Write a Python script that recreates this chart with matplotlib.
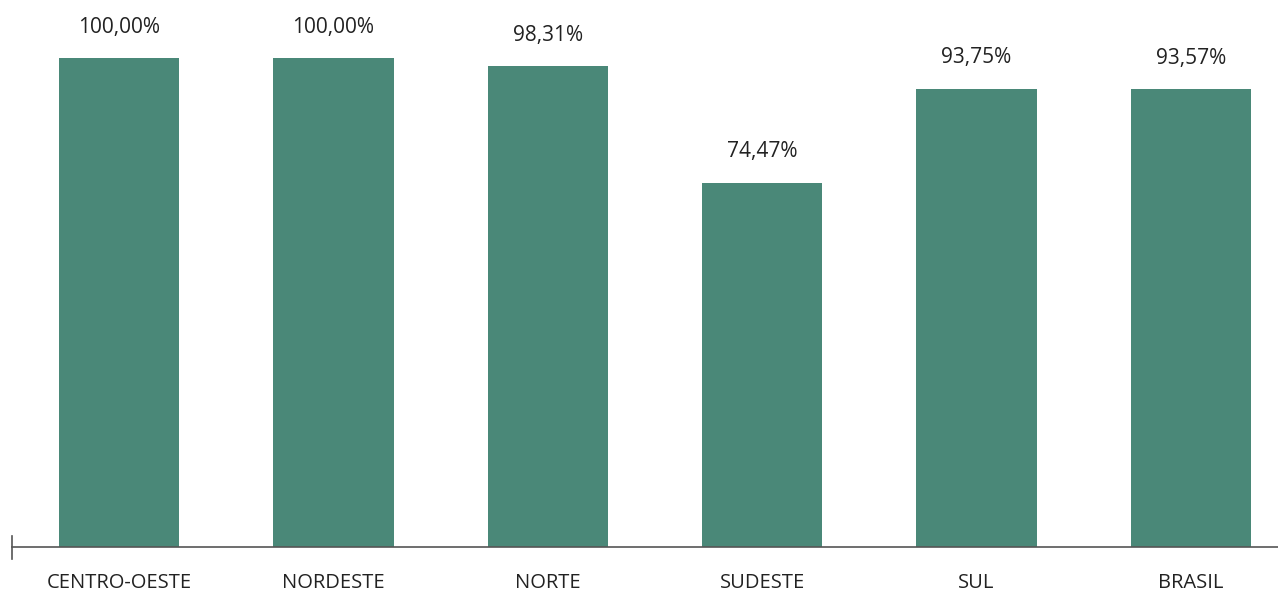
import matplotlib
matplotlib.use("Agg")
from matplotlib import pyplot as plt

regioes = ["CENTRO-OESTE", "NORDESTE", "NORTE", "SUDESTE", "SUL", "BRASIL"]
valores = [100.00, 100.00, 98.31, 74.47, 93.75, 93.57]
rotulos = ["100,00%", "100,00%", "98,31%", "74,47%", "93,75%", "93,57%"]

plt.rcParams['font.family'] = ['Open Sans', 'DejaVu Sans']

fig = plt.figure(figsize=(12.78, 5.92), dpi=100)
W, H = 1278, 592
# axes spans past the right edge, like the original crop
ax = fig.add_axes([12 / W, (H - 547) / H, 1286 / W, 547 / H])

x = range(len(regioes))
ax.bar(x, valores, width=0.56, color='#4a8878')
ax.set_xlim(-0.5, len(regioes) - 0.5)
ax.set_ylim(0, 111.86)

for i, (v, r) in enumerate(zip(valores, rotulos)):
    ax.annotate(r, (i, v), xytext=(0, 22.3), textcoords='offset points',
                ha='center', va='center', fontsize=15, color='#222222')

ax.set_xticks(list(x))
ax.set_xticklabels(regioes, fontsize=14.5, color='#222222')
ax.tick_params(axis='x', length=0, pad=18.5)
ax.set_yticks([])
for s in ['top', 'right', 'left']:
    ax.spines[s].set_visible(False)
ax.spines['bottom'].set_color('#555555')
ax.spines['bottom'].set_linewidth(1.2)
# small vertical tick at the left end of the baseline
ax.plot([-0.5, -0.5], [-0.022, 0.02], transform=ax.get_xaxis_transform(),
        color='#555555', lw=1.2, clip_on=False)

fig.savefig("out.png", dpi=100)
